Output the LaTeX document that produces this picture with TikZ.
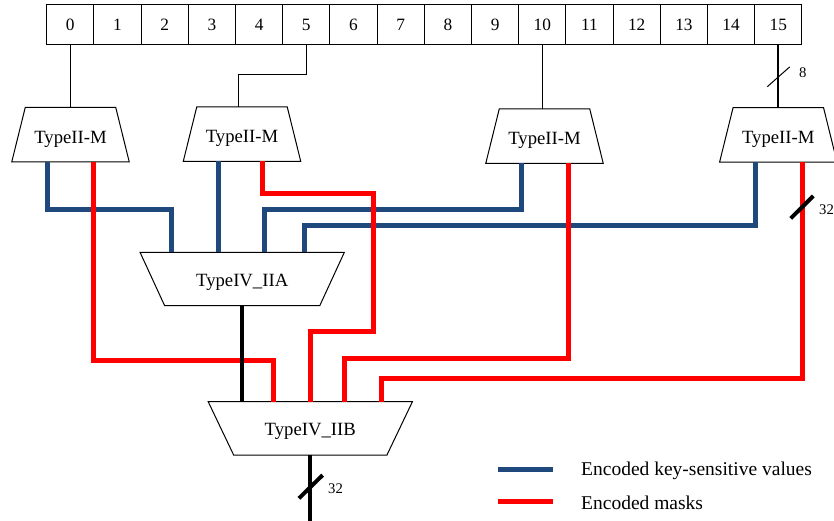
\documentclass[tikz,border=0pt]{standalone}
\usepackage{fontspec}
\setmainfont{Liberation Serif}
\definecolor{keyblue}{HTML}{1F497D}
\definecolor{maskred}{HTML}{FF0000}
\tikzset{
  cell/.style={draw, rectangle, minimum width=47.2pt, minimum height=40pt, inner sep=0pt, outer sep=0pt, line width=1pt, font=\fontsize{17.3}{20}\selectfont},
  tm/.style={rectangle, minimum width=117.5pt, minimum height=54.5pt, inner sep=0pt, outer sep=0pt, text height=17pt, text depth=0pt, font=\fontsize{18.7}{21}\selectfont},
  tiv/.style={rectangle, minimum width=204.3pt, minimum height=53.4pt, inner sep=0pt, outer sep=0pt, text height=15pt, text depth=0pt, font=\fontsize{18.7}{21}\selectfont},
  trapline/.style={draw=black, line width=1pt, line join=miter},
  bluewire/.style={draw=keyblue, line width=5pt},
  redwire/.style={draw=maskred, line width=5pt},
  blackwire/.style={draw=black, line width=4pt},
  thinwire/.style={draw=black, line width=1pt},
  slashmark/.style={draw=black, line width=4pt},
  lbl/.style={inner sep=0pt, font=\fontsize{14.7}{17}\selectfont},
  legtext/.style={inner sep=0pt, anchor=west, font=\fontsize{19.5}{22}\selectfont},
}
\begin{document}
\begin{tikzpicture}[x=1pt,y=-1pt]
\useasboundingbox (0,0) rectangle (834,521);
% register cells
\foreach \i in {0,...,15} {
  \node[cell] (c\i) at ({46.7+47.2*(\i+0.5)}, 24.7) {\i};
}
% TypeII-M blocks (narrow top, wide bottom)
\node[tm] (t1) at (70.5,134.7) {TypeII-M};
\node[tm] (t2) at (242,134.2) {TypeII-M};
\node[tm] (t3) at (544.5,136.2) {TypeII-M};
\node[tm] (t4) at (778.3,135) {TypeII-M};
\foreach \n in {t1,t2,t3,t4} {
  \draw[trapline] (\n.south west) -- ([xshift=13.5pt]\n.north west) -- ([xshift=-13.5pt]\n.north east) -- (\n.south east) -- cycle;
}
% TypeIV blocks (wide top, narrow bottom)
\node[tiv] (tA) at (242.2,279) {TypeIV\_IIA};
\node[tiv] (tB) at (310.3,428.3) {TypeIV\_IIB};
\draw[trapline] (tA.north west) -- ([xshift=24.6pt]tA.south west) -- ([xshift=-24.6pt]tA.south east) -- (tA.north east) -- cycle;
\draw[trapline] (tB.north west) -- ([xshift=25.5pt]tB.south west) -- ([xshift=-25.5pt]tB.south east) -- (tB.north east) -- cycle;
% inputs from register
\draw[thinwire] (c0.south) -- (c0.south |- t1.north);
\draw[thinwire, line width=1.4pt] (c5.south) -- ++(0,30) -| ([xshift=-3.7pt]t2.north);
\draw[thinwire] (c10.south) -- (c10.south |- t3.north);
\draw[thinwire, line width=2pt] (c15.south) -- (c15.south |- t4.north);
\coordinate (s8) at (778.5,76.8);
\draw[thinwire] ([shift={(-11.2,9.9)}]s8) -- ([shift={(11.2,-9.9)}]s8);
\node[lbl, anchor=west] (l8) at (799,73) {8};
% blue wires
\draw[bluewire] (47,0 |- t1.south) |- (171.7,209.3) -- (171.7,0 |- tA.north);
\draw[bluewire] (218.3,0 |- t2.south) -- (218.3,0 |- tA.north);
\draw[bluewire] (521.3,0 |- t3.south) |- (264.3,209.3) -- (264.3,0 |- tA.north);
\draw[bluewire] (755.3,0 |- t4.south) |- (304.3,225.3) -- (304.3,0 |- tA.north);
% red wires
\draw[redwire] (93.7,0 |- t1.south) |- (273.3,360) -- (273.3,0 |- tB.north);
\draw[redwire] (262.3,0 |- t2.south) |- (373.3,193.3) |- (310,331) -- (310,0 |- tB.north);
\draw[redwire] (568.3,0 |- t3.south) |- (344.3,358.7) -- (344.3,0 |- tB.north);
\draw[redwire] (802.3,0 |- t4.south) |- (381,378.7) -- (381,0 |- tB.north);
\coordinate (s4) at (802,207.2);
\draw[slashmark] ([shift={(-11.3,11.2)}]s4) -- ([shift={(11.3,-11.2)}]s4);
\node[lbl, anchor=west] (l32a) at (819,210) {32};
% black wires
\draw[blackwire] (242.3,0 |- tA.south) -- (242.3,0 |- tB.north);
\coordinate (out) at (310.3,521);
\draw[blackwire] (tB.south) -- (out);
\coordinate (sb) at (310.8,486.7);
\draw[slashmark] ([shift={(-11.8,11.6)}]sb) -- ([shift={(11.8,-11.6)}]sb);
\node[lbl, anchor=west] (l32b) at (328,489) {32};
% legend
\coordinate (lb1) at (498,469.3);
\coordinate (lb2) at (553,469.3);
\draw[bluewire] (lb1) -- (lb2);
\coordinate (lr1) at (498,501);
\coordinate (lr2) at (553,501);
\draw[redwire] (lr1) -- (lr2);
\node[legtext] (leg1) at (581,470.5) {Encoded key-sensitive values};
\node[legtext] (leg2) at (581,503) {Encoded masks};
\end{tikzpicture}
\end{document}
